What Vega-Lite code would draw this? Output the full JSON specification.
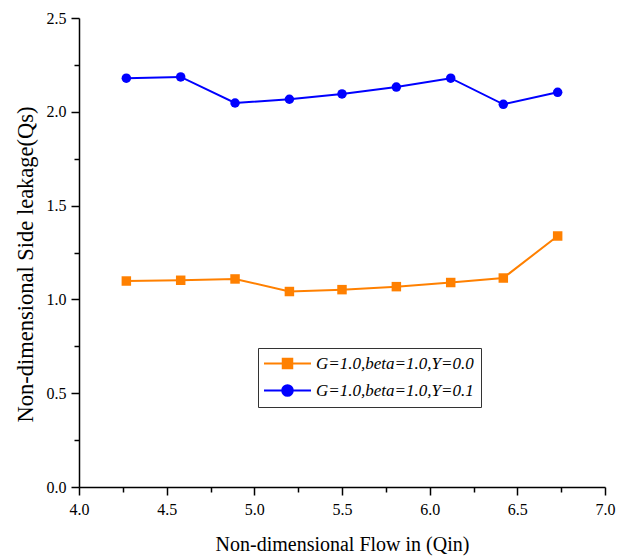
{
  "$schema": "https://vega.github.io/schema/vega-lite/v6.json",
  "autosize": "none",
  "width": 526,
  "height": 469,
  "padding": {"left": 79, "top": 18, "right": 22, "bottom": 69},
  "background": "white",
  "config": {
    "view": {"stroke": null},
    "font": "Liberation Serif",
    "axis": {
      "grid": false,
      "domainColor": "black",
      "domainWidth": 1.5,
      "tickColor": "black",
      "tickWidth": 1.5,
      "tickSize": {"condition": {"test": "round(datum.value * 4) % 2 == 0", "value": 8}, "value": 5},
      "labelFont": "Liberation Serif",
      "labelFontSize": 16,
      "labelColor": "black",
      "labelFlush": false,
      "labelOverlap": false,
      "titleFont": "Liberation Serif",
      "titleFontWeight": "normal",
      "titleColor": "black"
    }
  },
  "data": {
    "values": [
      {"q": 4.27, "qs": 1.098, "s": "G=1.0,beta=1.0,Y=0.0"},
      {"q": 4.58, "qs": 1.102, "s": "G=1.0,beta=1.0,Y=0.0"},
      {"q": 4.89, "qs": 1.109, "s": "G=1.0,beta=1.0,Y=0.0"},
      {"q": 5.20, "qs": 1.042, "s": "G=1.0,beta=1.0,Y=0.0"},
      {"q": 5.50, "qs": 1.052, "s": "G=1.0,beta=1.0,Y=0.0"},
      {"q": 5.81, "qs": 1.068, "s": "G=1.0,beta=1.0,Y=0.0"},
      {"q": 6.12, "qs": 1.090, "s": "G=1.0,beta=1.0,Y=0.0"},
      {"q": 6.42, "qs": 1.114, "s": "G=1.0,beta=1.0,Y=0.0"},
      {"q": 6.73, "qs": 1.338, "s": "G=1.0,beta=1.0,Y=0.0"},
      {"q": 4.27, "qs": 2.179, "s": "G=1.0,beta=1.0,Y=0.1"},
      {"q": 4.58, "qs": 2.186, "s": "G=1.0,beta=1.0,Y=0.1"},
      {"q": 4.89, "qs": 2.047, "s": "G=1.0,beta=1.0,Y=0.1"},
      {"q": 5.20, "qs": 2.067, "s": "G=1.0,beta=1.0,Y=0.1"},
      {"q": 5.50, "qs": 2.095, "s": "G=1.0,beta=1.0,Y=0.1"},
      {"q": 5.81, "qs": 2.132, "s": "G=1.0,beta=1.0,Y=0.1"},
      {"q": 6.12, "qs": 2.179, "s": "G=1.0,beta=1.0,Y=0.1"},
      {"q": 6.42, "qs": 2.040, "s": "G=1.0,beta=1.0,Y=0.1"},
      {"q": 6.73, "qs": 2.104, "s": "G=1.0,beta=1.0,Y=0.1"}
    ]
  },
  "encoding": {
    "x": {
      "field": "q",
      "type": "quantitative",
      "scale": {"domain": [4, 7], "nice": false, "zero": false},
      "axis": {
        "title": "Non-dimensional Flow in (Qin)",
        "titleFontSize": 20,
        "titlePadding": 17,
        "values": [4, 4.25, 4.5, 4.75, 5, 5.25, 5.5, 5.75, 6, 6.25, 6.5, 6.75, 7],
        "labelExpr": "round(datum.value * 4) % 2 == 0 ? format(datum.value, '.1f') : ''",
        "labelPadding": 6
      }
    },
    "y": {
      "field": "qs",
      "type": "quantitative",
      "scale": {"domain": [0, 2.5], "nice": false},
      "axis": {
        "title": "Non-dimensional Side leakage(Qs)",
        "titleFontSize": 22.5,
        "titlePadding": 9,
        "titleY": 246,
        "values": [0, 0.25, 0.5, 0.75, 1, 1.25, 1.5, 1.75, 2, 2.25, 2.5],
        "labelExpr": "round(datum.value * 4) % 2 == 0 ? format(datum.value, '.1f') : ''",
        "labelPadding": 5
      }
    },
    "color": {
      "field": "s",
      "type": "nominal",
      "scale": {"domain": ["G=1.0,beta=1.0,Y=0.0", "G=1.0,beta=1.0,Y=0.1"], "range": ["#ff8000", "#0000ff"]},
      "legend": {
        "title": null,
        "orient": "none",
        "legendX": 179,
        "legendY": 330,
        "padding": 7,
        "strokeColor": "#333333",
        "fillColor": "white",
        "symbolSize": 100,
        "symbolOffset": 14,
        "labelOffset": 20,
        "rowPadding": 8,
        "labelFont": "Liberation Serif",
        "labelFontSize": 17,
        "labelFontStyle": "italic",
        "labelColor": "black",
        "labelLimit": 400,
        "encode": {
          "symbols": {
            "update": {
              "size": {"value": 100},
              "shape": {"signal": "datum.value == 'G=1.0,beta=1.0,Y=0.0' ? 'M-4.7,0H4.7M-0.95,-0.95H0.95V0.95H-0.95Z' : 'M-4.7,0H4.7M1.06,0A1.06,1.06 0 1,1 -1.06,0A1.06,1.06 0 1,1 1.06,0Z'"},
              "fill": {"signal": "datum.value == 'G=1.0,beta=1.0,Y=0.0' ? '#ff8000' : '#0000ff'"},
              "stroke": {"signal": "datum.value == 'G=1.0,beta=1.0,Y=0.0' ? '#ff8000' : '#0000ff'"},
              "strokeWidth": {"value": 2},
              "opacity": {"value": 1}
            }
          }
        }
      }
    }
  },
  "layer": [
    {
      "mark": {"type": "line", "strokeWidth": 2}
    },
    {
      "transform": [{"filter": "datum.s == 'G=1.0,beta=1.0,Y=0.0'"}],
      "mark": {"type": "point", "shape": "square", "filled": true, "opacity": 1, "size": 90}
    },
    {
      "transform": [{"filter": "datum.s == 'G=1.0,beta=1.0,Y=0.1'"}],
      "mark": {"type": "point", "shape": "circle", "filled": true, "opacity": 1, "size": 90}
    }
  ]
}
